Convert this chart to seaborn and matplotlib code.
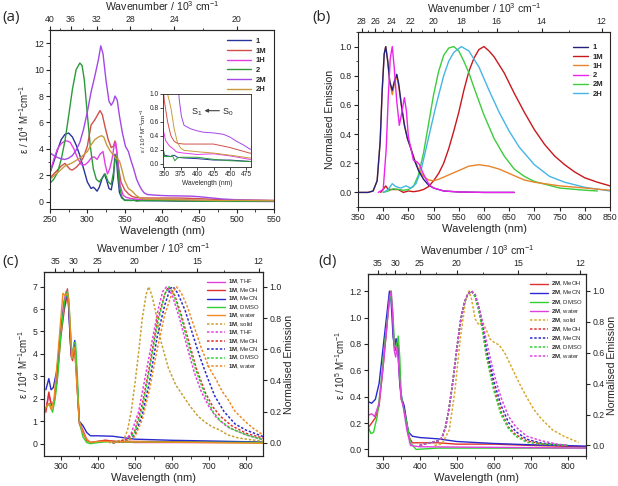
import numpy as np
import matplotlib
matplotlib.use("Agg")
import matplotlib.pyplot as plt
from matplotlib.ticker import FixedLocator, MultipleLocator
import seaborn as sns

# ---------------- panel (a): absorption, eps / 10^4 M-1 cm-1 ----------------
a_labels = ["1", "1M", "1H", "2", "2M", "2H"]
a_colors = ["#2a3599", "#d0504a", "#e23ee6", "#2b9a3a", "#a347e6", "#c89a3c"]

a_wl_1 = [250, 255, 260, 265, 270, 275, 280, 285, 290, 295, 300, 305, 308, 310, 313, 316, 320, 323, 326,
          329, 332, 335, 337, 339, 341, 343, 346, 350, 355, 360, 365, 370, 380, 400, 425, 450, 480, 500, 550]
a_eps_1 = [2.2, 3.0, 3.9, 4.7, 5.1, 5.2, 4.9, 4.3, 3.5, 2.5, 1.5, 1.0, 1.1, 1.0, 0.8, 1.1, 1.8, 2.1, 1.6,
           1.0, 0.9, 1.8, 3.6, 3.2, 1.8, 0.7, 0.3, 0.12, 0.11, 0.10, 0.12, 0.09, 0.08, 0.07, 0.05, 0.05, 0.03, 0.03, 0.02]
a_wl_1M = [250, 255, 260, 265, 270, 273, 277, 280, 285, 290, 295, 300, 305, 310, 314, 317, 320, 324, 328,
           332, 335, 337, 339, 342, 345, 350, 355, 360, 365, 370, 380, 400, 425, 450, 465, 480, 500, 550]
a_eps_1M = [1.8, 2.1, 2.4, 2.7, 2.9, 2.7, 2.45, 2.4, 2.6, 2.9, 3.4, 4.2, 5.8, 6.2, 6.6, 6.9, 6.6, 5.6, 4.7,
            4.1, 4.2, 4.6, 4.0, 2.5, 1.5, 0.9, 0.6, 0.4, 0.32, 0.29, 0.28, 0.28, 0.28, 0.23, 0.19, 0.15, 0.13, 0.1]
a_wl_1H = [250, 255, 260, 265, 270, 273, 277, 282, 287, 292, 297, 301, 305, 309, 313, 317, 321, 324, 327,
           330, 333, 336, 338, 341, 344, 348, 352, 358, 365, 368, 372, 380, 400, 425, 450, 480, 500, 550]
a_eps_1H = [2.2, 3.2, 4.0, 4.4, 4.6, 4.6, 4.5, 4.0, 3.3, 2.8, 2.8, 3.0, 3.3, 3.4, 3.2, 3.6, 3.8, 2.8, 2.1,
            2.5, 3.2, 4.3, 4.5, 3.0, 1.2, 0.5, 0.33, 0.25, 0.2, 0.17, 0.16, 0.15, 0.13, 0.14, 0.11, 0.06, 0.06, 0.05]
a_wl_2 = [250, 255, 260, 265, 270, 275, 280, 285, 290, 293, 296, 300, 304, 308, 312, 316, 320, 324, 328,
          332, 335, 338, 340, 343, 346, 350, 356, 360, 362, 366, 370, 375, 400, 425, 450, 480, 500, 550]
a_eps_2 = [1.4, 1.7, 2.2, 3.2, 4.6, 6.5, 8.5, 10.0, 10.5, 10.3, 9.2, 6.6, 4.2, 2.5, 1.7, 1.5, 1.8, 2.1, 1.5,
           1.3, 2.2, 3.5, 3.0, 1.2, 0.4, 0.1, 0.1, 0.1, 0.12, 0.04, 0.08, 0.09, 0.09, 0.06, 0.04, 0.03, 0.03, 0.05]
a_wl_2M = [250, 255, 260, 265, 270, 275, 280, 285, 290, 295, 300, 305, 310, 315, 318, 321, 325, 329, 332,
           335, 337, 340, 343, 347, 351, 355, 358, 362, 366, 370, 373, 376, 380, 390, 400, 410, 425, 440, 450,
           460, 470, 480, 500, 550]
a_eps_2M = [3.7, 3.5, 3.35, 3.25, 3.2, 3.3, 3.5, 3.9, 4.5, 5.5, 6.8, 8.3, 9.5, 10.8, 11.8, 11.2, 9.2, 7.6, 7.3,
            7.6, 8.0, 7.7, 6.5, 5.2, 4.2, 3.8, 3.2, 2.5, 1.7, 1.2, 0.9, 0.68, 0.55, 0.5, 0.47, 0.45, 0.44, 0.42, 0.38,
            0.32, 0.27, 0.21, 0.15, 0.08]
a_wl_2H = [250, 260, 270, 280, 290, 300, 305, 310, 315, 319, 322, 326, 330, 334, 338, 341, 343, 346, 350,
           355, 360, 365, 370, 375, 380, 400, 425, 450, 480, 500, 550]
a_eps_2H = [1.7, 2.2, 2.7, 2.95, 3.3, 3.8, 4.3, 4.7, 4.9, 5.0, 4.9, 4.3, 3.9, 3.6, 3.3, 3.2, 3.1, 2.5, 1.6,
            1.0, 0.8, 0.5, 0.3, 0.22, 0.19, 0.17, 0.15, 0.12, 0.08, 0.1, 0.08]

# ---------------- panel (b): normalised emission ----------------
b_labels = ["1", "1M", "1H", "2", "2M", "2H"]
b_colors = ["#25207a", "#c8181e", "#e8842c", "#ee22ee", "#3ccc3c", "#45b5e5"]

b_wl_1 = [350, 370, 380, 388, 394, 398, 402, 405, 409, 413, 418, 422, 427, 431, 436, 442, 448, 455, 462,
          470, 480, 490, 500, 520, 550, 600, 660]
b_em_1 = [0, 0, 0.01, 0.08, 0.35, 0.7, 0.95, 1.0, 0.9, 0.76, 0.7, 0.76, 0.81, 0.74, 0.6, 0.46, 0.37, 0.3, 0.22,
          0.15, 0.09, 0.05, 0.03, 0.01, 0.003, 0, 0]
b_wl_1M = [395, 400, 405, 410, 420, 430, 440, 450, 460, 470, 480, 490, 500, 510, 520, 530, 540, 550, 560,
           570, 580, 590, 600, 610, 620, 640, 660, 680, 700, 720, 740, 760, 780, 800, 825, 850]
b_em_1M = [0, 0.02, 0.045, 0.02, 0.02, 0.02, 0.0, 0.01, 0.005, 0.01, 0.02, 0.04, 0.08, 0.13, 0.2, 0.3, 0.42,
           0.55, 0.7, 0.83, 0.92, 0.98, 1.0, 0.97, 0.93, 0.82, 0.68, 0.55, 0.43, 0.33, 0.25, 0.19, 0.14, 0.1,
           0.07, 0.045]
b_wl_1H = [350, 370, 380, 388, 394, 398, 402, 405, 409, 413, 418, 422, 427, 431, 436, 442, 448, 455, 462,
           470, 480, 490, 500, 510, 530, 550, 570, 590, 610, 630, 650, 670, 680, 700, 750, 800, 850]
b_em_1H = [0, 0, 0.01, 0.08, 0.35, 0.7, 0.95, 1.0, 0.9, 0.76, 0.67, 0.74, 0.8, 0.72, 0.6, 0.47, 0.37, 0.3,
           0.23, 0.16, 0.11, 0.085, 0.08, 0.09, 0.12, 0.15, 0.18, 0.19, 0.18, 0.16, 0.13, 0.1, 0.085, 0.07,
           0.045, 0.03, 0.015]
b_wl_2 = [390, 400, 406, 410, 414, 418, 422, 427, 432, 437, 442, 446, 450, 455, 460, 467, 472, 478, 485,
          492, 500, 520, 550, 600, 660]
b_em_2 = [0, 0.02, 0.3, 0.65, 0.92, 1.0, 0.85, 0.62, 0.46, 0.55, 0.65, 0.56, 0.38, 0.3, 0.22, 0.21, 0.19,
          0.14, 0.09, 0.05, 0.03, 0.01, 0.003, 0.0, 0.0]
b_wl_2M = [400, 410, 420, 430, 440, 450, 460, 470, 480, 490, 500, 510, 520, 530, 540, 550, 560, 570, 580,
           600, 620, 640, 660, 680, 700, 750, 800, 825]
b_em_2M = [0, 0.01, 0.025, 0.02, 0.015, 0.02, 0.04, 0.12, 0.27, 0.47, 0.67, 0.83, 0.94, 0.99, 1.0, 0.97,
           0.9, 0.82, 0.72, 0.53, 0.37, 0.25, 0.16, 0.11, 0.075, 0.03, 0.015, 0.01]
b_wl_2H = [400, 410, 418, 425, 435, 445, 455, 465, 475, 485, 495, 505, 520, 530, 540, 555, 570, 590, 610,
           630, 650, 670, 700, 730, 760, 800, 850]
b_em_2H = [0, 0.02, 0.06, 0.04, 0.03, 0.045, 0.03, 0.06, 0.15, 0.3, 0.45, 0.6, 0.8, 0.9, 0.96, 1.0, 0.97,
           0.86, 0.7, 0.55, 0.42, 0.31, 0.19, 0.11, 0.07, 0.035, 0.01]

# ---------------- panel (c): 1M in solvents ----------------
c_abs_labels = ["THF", "MeOH", "MeCN", "DMSO", "water"]
c_abs_colors = ["#e040e0", "#e03030", "#2a2ad0", "#30d030", "#f08a20"]
c_abs_wl = [
    [260, 268, 275, 282, 290, 300, 308, 315, 320, 326, 330, 334, 338, 343, 350, 360, 370, 380, 400, 420, 440, 500, 845],
    [260, 268, 275, 282, 290, 300, 310, 314, 318, 322, 328, 332, 337, 342, 350, 360, 370, 380, 420, 450, 500, 845],
    [260, 268, 274, 280, 290, 300, 310, 316, 320, 326, 330, 334, 338, 342, 350, 360, 370, 380, 400, 440, 500, 600, 700, 845],
    [260, 270, 278, 285, 292, 300, 310, 318, 322, 328, 332, 336, 340, 345, 350, 360, 370, 380, 400, 420, 450, 845],
    [260, 268, 275, 282, 290, 300, 306, 312, 318, 322, 326, 330, 334, 338, 342, 350, 360, 370, 380, 400, 420, 500, 845],
]
c_abs_eps = [
    [1.5, 2.2, 1.7, 1.9, 3.0, 5.0, 6.3, 6.8, 6.6, 5.0, 3.8, 4.0, 4.4, 3.0, 1.0, 0.6, 0.2, 0.05, 0.1, 0.15, 0.1, 0.05, 0.05],
    [1.4, 2.3, 1.7, 1.8, 2.8, 4.7, 6.0, 6.3, 6.9, 6.0, 3.9, 3.7, 4.3, 3.2, 0.9, 0.5, 0.15, 0.05, 0.15, 0.1, 0.1, 0.05],
    [2.4, 2.9, 2.4, 2.5, 3.3, 5.0, 6.2, 6.6, 6.5, 4.5, 3.8, 4.2, 4.6, 3.5, 1.0, 0.8, 0.5, 0.35, 0.35, 0.33, 0.2, 0.15, 0.12, 0.07],
    [1.6, 1.8, 1.4, 2.0, 3.0, 4.8, 6.3, 6.8, 6.4, 4.5, 3.8, 4.5, 4.5, 3.0, 1.0, 0.3, 0.05, 0.0, 0.05, 0.08, 0.08, 0.05],
    [1.6, 1.8, 1.5, 2.0, 3.5, 5.5, 6.7, 6.6, 6.7, 6.3, 5.0, 3.8, 4.2, 4.3, 3.0, 1.0, 0.5, 0.2, 0.05, 0.1, 0.1, 0.08, 0.02],
]
c_em_labels = ["solid", "THF", "MeOH", "MeCN", "DMSO", "water"]
c_em_colors = ["#c8a030", "#e040e0", "#e03030", "#2a2ad0", "#30d030", "#f08a20"]
c_em_wl = [
    [430, 470, 480, 490, 500, 510, 520, 530, 537, 545, 555, 570, 590, 610, 630, 650, 670, 690, 710, 730, 750, 780, 810, 845],
    [440, 470, 490, 510, 530, 550, 565, 575, 585, 600, 620, 640, 660, 680, 700, 720, 750, 800, 845],
    [440, 480, 500, 520, 540, 560, 580, 590, 605, 625, 645, 665, 690, 710, 730, 760, 800, 845],
    [440, 480, 500, 520, 540, 560, 580, 595, 603, 615, 635, 655, 675, 695, 715, 740, 770, 800, 845],
    [440, 480, 500, 520, 540, 560, 580, 592, 605, 625, 645, 665, 690, 710, 730, 760, 800, 845],
    [440, 480, 500, 520, 540, 560, 580, 600, 612, 625, 640, 660, 680, 700, 720, 735, 750, 770, 800, 820, 845],
]
c_em_val = [
    [0, 0.02, 0.08, 0.2, 0.38, 0.58, 0.8, 0.95, 1.0, 0.95, 0.85, 0.65, 0.48, 0.37, 0.3, 0.23, 0.17, 0.13, 0.1, 0.08, 0.05, 0.03, 0.02, 0.01],
    [0, 0.01, 0.06, 0.2, 0.45, 0.7, 0.88, 0.97, 1.0, 0.95, 0.8, 0.62, 0.45, 0.32, 0.23, 0.16, 0.1, 0.05, 0.02],
    [0, 0.02, 0.08, 0.25, 0.5, 0.78, 0.95, 1.0, 0.96, 0.82, 0.65, 0.48, 0.32, 0.23, 0.17, 0.11, 0.06, 0.03],
    [0, 0.01, 0.05, 0.18, 0.4, 0.68, 0.88, 0.99, 1.0, 0.96, 0.85, 0.7, 0.55, 0.42, 0.3, 0.2, 0.12, 0.08, 0.04],
    [0, 0.01, 0.07, 0.22, 0.48, 0.75, 0.95, 1.0, 0.95, 0.8, 0.62, 0.46, 0.3, 0.2, 0.14, 0.09, 0.05, 0.02],
    [0, 0.01, 0.04, 0.15, 0.35, 0.6, 0.82, 0.96, 1.0, 0.96, 0.88, 0.74, 0.6, 0.48, 0.4, 0.33, 0.28, 0.2, 0.13, 0.09, 0.05],
]

# ---------------- panel (d): 2M in solvents, eps / 10^5 ----------------
d_abs_labels = ["MeOH", "MeCN", "DMSO", "water"]
d_abs_colors = ["#e03030", "#2a2ad0", "#30d030", "#e040e0"]
d_abs_wl = [
    [262, 270, 280, 290, 300, 310, 316, 321, 326, 330, 334, 338, 342, 346, 350, 355, 360, 365, 370, 380, 400, 450, 500, 600, 700, 850],
    [262, 270, 280, 290, 300, 310, 318, 322, 328, 332, 336, 340, 346, 352, 358, 365, 370, 380, 400, 450, 500, 600, 700, 850],
    [262, 268, 275, 285, 295, 305, 315, 322, 327, 332, 337, 342, 346, 350, 355, 365, 375, 390, 450, 850],
    [262, 270, 278, 290, 300, 310, 318, 323, 327, 331, 335, 339, 344, 350, 355, 365, 375, 400, 850],
]
d_abs_eps = [
    [0.17, 0.2, 0.24, 0.33, 0.6, 0.9, 1.1, 1.2, 1.05, 0.8, 0.75, 0.82, 0.78, 0.5, 0.38, 0.35, 0.28, 0.2, 0.1, 0.05, 0.05, 0.05, 0.04, 0.04, 0.03, 0.02],
    [0.36, 0.35, 0.38, 0.5, 0.75, 1.0, 1.2, 1.15, 0.85, 0.78, 0.84, 0.8, 0.5, 0.38, 0.33, 0.2, 0.13, 0.1, 0.09, 0.08, 0.06, 0.045, 0.035, 0.025],
    [0.16, 0.12, 0.13, 0.25, 0.5, 0.8, 1.05, 1.2, 1.05, 0.78, 0.78, 0.86, 0.7, 0.4, 0.33, 0.2, 0.05, 0.0, 0.01, 0.01],
    [0.26, 0.27, 0.25, 0.35, 0.6, 0.9, 1.15, 1.2, 1.0, 0.75, 0.7, 0.78, 0.6, 0.38, 0.33, 0.15, 0.03, 0.02, 0.01],
]
d_em_labels = ["solid", "MeOH", "MeCN", "DMSO", "water"]
d_em_colors = ["#d8a830", "#e03030", "#2a2ad0", "#30d030", "#e040e0"]
d_em_wl = [
    [440, 460, 480, 495, 510, 525, 533, 540, 550, 560, 570, 580, 590, 600, 615, 630, 650, 670, 690, 710, 730, 760, 790, 830],
    [400, 430, 450, 460, 470, 480, 490, 500, 510, 520, 530, 540, 550, 560, 570, 580, 600, 620, 640, 660, 690, 730, 800],
    [400, 430, 450, 460, 470, 480, 490, 500, 510, 520, 530, 540, 550, 560, 570, 580, 600, 620, 640, 660, 690, 730, 800],
    [400, 430, 450, 460, 470, 480, 490, 500, 510, 520, 530, 540, 550, 560, 570, 580, 600, 620, 640, 660, 690, 730, 800],
    [400, 430, 450, 460, 470, 480, 490, 500, 510, 520, 530, 540, 550, 560, 570, 580, 600, 620, 640, 660, 690, 730, 770, 800],
]
d_em_val = [
    [0.0, 0.01, 0.1, 0.35, 0.7, 0.95, 1.0, 0.95, 0.82, 0.78, 0.8, 0.75, 0.69, 0.67, 0.65, 0.6, 0.5, 0.4, 0.31, 0.23, 0.17, 0.1, 0.06, 0.02],
    [0.0, 0.02, 0.03, 0.05, 0.12, 0.25, 0.42, 0.62, 0.8, 0.92, 0.98, 1.0, 0.97, 0.88, 0.76, 0.6, 0.38, 0.22, 0.12, 0.07, 0.03, 0.01, 0.0],
    [0.0, 0.02, 0.03, 0.05, 0.12, 0.25, 0.42, 0.62, 0.8, 0.92, 0.98, 1.0, 0.97, 0.89, 0.78, 0.63, 0.42, 0.26, 0.15, 0.09, 0.04, 0.015, 0.0],
    [0.0, 0.02, 0.03, 0.05, 0.12, 0.25, 0.42, 0.62, 0.8, 0.92, 0.98, 1.0, 0.96, 0.87, 0.74, 0.58, 0.36, 0.2, 0.11, 0.06, 0.02, 0.01, 0.0],
    [0.0, 0.02, 0.03, 0.05, 0.12, 0.25, 0.42, 0.62, 0.8, 0.92, 0.98, 1.0, 0.98, 0.9, 0.8, 0.68, 0.47, 0.31, 0.19, 0.12, 0.06, 0.03, 0.01, 0.0],
]

# ---------------- style ----------------
sns.set_style("ticks")
plt.rcParams["font.family"] = ["Liberation Sans", "DejaVu Sans"]
plt.rcParams["mathtext.fontset"] = "custom"
plt.rcParams["mathtext.rm"] = "Liberation Sans"
plt.rcParams["mathtext.it"] = "Liberation Sans:italic"
plt.rcParams["mathtext.bf"] = "Liberation Sans:bold"
plt.rcParams["axes.linewidth"] = 0.8

TICK = 6.3
LAB = 7.6
EPS4 = "ε / 10$^4$ M$^{-1}$cm$^{-1}$"
EPS5 = "ε / 10$^5$ M$^{-1}$cm$^{-1}$"
WN = "Wavenumber / 10$^3$ cm$^{-1}$"

fig = plt.figure(figsize=(6.18, 4.86), dpi=100)


def box(l, t, r, b):
    return [l / 618, 1 - b / 486, (r - l) / 618, (b - t) / 486]


def inv(x):
    x = np.asarray(x, dtype=float)
    with np.errstate(divide="ignore", invalid="ignore"):
        return np.where(x != 0, 1e4 / np.where(x != 0, x, 1), np.inf)


def style(ax, size=TICK):
    ax.tick_params(direction="out", length=3, width=0.8, labelsize=size, pad=1.5)
    ax.tick_params(which="minor", direction="out", length=1.8, width=0.6)


def top_axis(ax, major, minor):
    sec = ax.secondary_xaxis("top", functions=(inv, inv))
    sec.set_xticks(major)
    sec.set_xticklabels([str(m) for m in major])
    sec.xaxis.set_minor_locator(FixedLocator(minor))
    sec.tick_params(direction="out", length=3, width=0.8, labelsize=TICK, pad=1.5)
    sec.tick_params(which="minor", direction="out", length=1.8, width=0.6)
    sec.set_xlabel(WN, fontsize=LAB, labelpad=2.5)
    return sec


def draw(ax, x, y, color, label=None, lw=1.0, ls="-"):
    sns.lineplot(x=x, y=y, ax=ax, color=color, lw=lw, linestyle=ls, label=label,
                 legend=False, estimator=None, sort=False)


# ---------------- (a) ----------------
ax = fig.add_axes(box(50, 30, 274, 209))
a_wl = [a_wl_1, a_wl_1M, a_wl_1H, a_wl_2, a_wl_2M, a_wl_2H]
a_eps = [a_eps_1, a_eps_1M, a_eps_1H, a_eps_2, a_eps_2M, a_eps_2H]
for x, y, c, lab in zip(a_wl, a_eps, a_colors, a_labels):
    draw(ax, x, y, c, lab)
ax.set_xlim(250, 550)
ax.set_ylim(-0.55, 13)
ax.set_xticks(range(250, 551, 50))
ax.xaxis.set_minor_locator(MultipleLocator(25))
ax.set_yticks(range(0, 13, 2))
ax.yaxis.set_minor_locator(MultipleLocator(1))
style(ax)
ax.set_xlabel("Wavelength (nm)", fontsize=LAB + 0.4, labelpad=1)
ax.set_ylabel(EPS4, fontsize=LAB - 0.6, labelpad=2)
top_axis(ax, [40, 36, 32, 28, 24, 20], [38, 34, 30, 26, 22, 18])
ax.legend(loc="upper right", bbox_to_anchor=(1.0, 1.0), frameon=False, borderaxespad=0.6,
          prop={"weight": "bold", "size": 5.5}, handlelength=3.2, labelspacing=0.3, handletextpad=0.6)

ins = fig.add_axes(box(163, 94, 251, 167))
for x, y, c in zip(a_wl, a_eps, a_colors):
    draw(ins, x, y, c, lw=0.7)
ins.set_xlim(348, 482)
ins.set_ylim(-0.05, 1.0)
ins.set_xticks(range(350, 476, 25))
ins.set_yticks([0, 0.2, 0.4, 0.6, 0.8, 1.0])
ins.tick_params(direction="out", length=2, width=0.6, labelsize=4.8, pad=1)
for s in ins.spines.values():
    s.set_linewidth(0.6)
ins.set_xlabel("Wavelength (nm)", fontsize=4.8, labelpad=1)
ins.set_ylabel(EPS4, fontsize=4.5, labelpad=1)
ins.text(400, 0.74, "S$_1$", fontsize=6.5, ha="center", va="center")
ins.text(447, 0.74, "S$_0$", fontsize=6.5, ha="center", va="center")
ins.annotate("", xy=(407, 0.76), xytext=(438, 0.76),
             arrowprops=dict(arrowstyle="-|>", color="0.25", lw=0.8, mutation_scale=5))

# ---------------- (b) ----------------
ax = fig.add_axes(box(358, 32, 610, 207))
b_wl = [b_wl_1, b_wl_1M, b_wl_1H, b_wl_2, b_wl_2M, b_wl_2H]
b_em = [b_em_1, b_em_1M, b_em_1H, b_em_2, b_em_2M, b_em_2H]
order = [1, 4, 5, 2, 0, 3]
for i in order:
    draw(ax, b_wl[i], b_em[i], b_colors[i], b_labels[i])
ax.set_xlim(350, 850)
ax.set_ylim(-0.1, 1.1)
ax.set_xticks(range(350, 851, 50))
ax.set_yticks([0, 0.2, 0.4, 0.6, 0.8, 1.0])
ax.yaxis.set_minor_locator(MultipleLocator(0.1))
style(ax)
ax.set_xlabel("Wavelength (nm)", fontsize=LAB + 0.4, labelpad=1)
ax.set_ylabel("Normalised Emission", fontsize=LAB, labelpad=3)
top_axis(ax, [28, 26, 24, 22, 20, 18, 16, 14, 12], [27, 25, 23, 21, 19, 17, 15, 13])
h, l = ax.get_legend_handles_labels()
hl = dict(zip(l, h))
ax.legend([hl[k] for k in b_labels], b_labels, loc="upper right", bbox_to_anchor=(1.0, 0.97),
          frameon=False, prop={"weight": "bold", "size": 5.5}, handlelength=2.0,
          labelspacing=0.25, handletextpad=0.6)


# ---------------- (c) and (d) ----------------
def solvent_panel(rect, xlim, ylim, ylim2, yticks, ylabel, abs_wl, abs_val, abs_labels, abs_colors,
                  em_wl, em_val, em_labels, em_colors, tag, top_major, top_minor, spacing):
    ax = fig.add_axes(rect)
    for x, y, c, lab in zip(abs_wl, abs_val, abs_colors, abs_labels):
        draw(ax, x, y, c, r"$\mathbf{%s}$, %s" % (tag, lab), lw=1.0)
    ax2 = ax.twinx()
    for x, y, c, lab in zip(em_wl, em_val, em_colors, em_labels):
        draw(ax2, x, y, c, r"$\mathbf{%s}$, %s" % (tag, lab), lw=1.1, ls=(0, (1.6, 1.2)))
    ax.set_xlim(*xlim)
    ax.set_ylim(*ylim)
    ax2.set_ylim(*ylim2)
    ax.set_xticks(range(300, 801, 100))
    ax.xaxis.set_minor_locator(MultipleLocator(50))
    ax.set_yticks(yticks)
    ax2.set_yticks([0, 0.2, 0.4, 0.6, 0.8, 1.0])
    style(ax)
    style(ax2)
    ax.set_xlabel("Wavelength (nm)", fontsize=LAB + 0.4, labelpad=1)
    ax.set_ylabel(ylabel, fontsize=LAB - 0.6, labelpad=2)
    ax2.set_ylabel("Normalised Emission", fontsize=LAB, labelpad=2)
    top_axis(ax, top_major, top_minor)
    h1, l1 = ax.get_legend_handles_labels()
    h2, l2 = ax2.get_legend_handles_labels()
    ax2.legend(h1 + h2, l1 + l2, loc="upper right", bbox_to_anchor=(1.0, 0.99), frameon=False,
               fontsize=4.3, handlelength=3.0, labelspacing=spacing, handletextpad=0.5, borderaxespad=0.3)
    return ax, ax2


solvent_panel(box(44, 272, 263, 456), (255, 845), (-0.55, 7.65), (-0.085, 1.095), range(0, 8),
              EPS4, c_abs_wl, c_abs_eps, c_abs_labels, c_abs_colors,
              c_em_wl, c_em_val, c_em_labels, c_em_colors, "1M",
              [35, 30, 25, 20, 15, 12], [32.5, 27.5, 22.5, 17.5, 13.5], 0.0)

solvent_panel(box(368, 274, 586, 456), (260, 850), (-0.05, 1.33), (-0.068, 1.11),
              [0, 0.2, 0.4, 0.6, 0.8, 1.0, 1.2],
              EPS5, d_abs_wl, d_abs_eps, d_abs_labels, d_abs_colors,
              d_em_wl, d_em_val, d_em_labels, d_em_colors, "2M",
              [35, 30, 25, 20, 15, 12], [32.5, 27.5, 22.5, 17.5, 13.5], 0.1)

# panel letters
for lab, x, y in [("(a)", 2, 18), ("(b)", 312, 18), ("(c)", 2, 262), ("(d)", 318, 262)]:
    fig.text(x / 618, 1 - y / 486, lab, fontsize=11, family="Open Sans", va="center", ha="left")

fig.savefig("out.png", dpi=100)
